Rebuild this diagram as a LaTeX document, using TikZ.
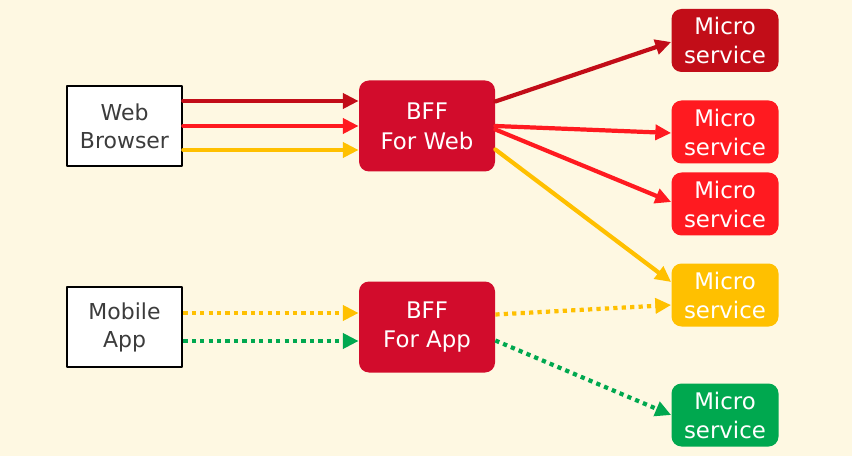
\documentclass[tikz,border=0pt]{standalone}
\usepackage{fontspec}
\setmainfont{DejaVu Sans}
\usepackage{xcolor}
\usetikzlibrary{arrows.meta}
\definecolor{bgcream}{HTML}{FEF8E2}
\definecolor{textgray}{HTML}{3C3C3C}
\definecolor{bffred}{HTML}{D20C2C}
\definecolor{darkred}{HTML}{C20D18}
\definecolor{brightred}{HTML}{FF1A20}
\definecolor{ambery}{HTML}{FFC000}
\definecolor{greenms}{HTML}{00A84F}
\tikzset{
	client/.style={draw=black,line width=1.5pt,fill=white,minimum width=2.3cm,minimum height=1.6cm,align=center,text=textgray,font=\fontsize{12.5}{16}\selectfont},
	bff/.style={fill=bffred,rounded corners=0.2cm,minimum width=2.72cm,minimum height=1.82cm,align=center,text=white,font=\fontsize{13}{17}\selectfont},
	service/.style={rounded corners=0.2cm,minimum width=2.14cm,minimum height=1.26cm,align=center,text=white,font=\fontsize{13}{16.5}\selectfont},
	flow/.style={->,line width=2.4pt},
	dotflow/.style={flow,line cap=butt,dash pattern=on 2.4pt off 2.4pt},
}

\begin{document}
\begin{tikzpicture}[line cap=round,line join=round,>={Triangle[length=9pt,width=8.5pt]},x=1.0cm,y=1.0cm]
		\fill[bgcream] (0,0) rectangle (17.04,9.12);
		\useasboundingbox (0,0) rectangle (17.04,9.12);
		% clients
		\node[client] (web) at (2.49,6.6) {Web\\Browser};
		\node[client] (app) at (2.49,2.58) {Mobile\\App};
		% backends for frontends
		\node[bff] (bffweb) at (8.54,6.6) {BFF\\For Web};
		\node[bff] (bffapp) at (8.54,2.58) {BFF\\For App};
		% micro services
		\node[service,fill=darkred] (ms1) at (14.5,8.31) {Micro\\service};
		\node[service,fill=brightred] (ms2) at (14.5,6.48) {Micro\\service};
		\node[service,fill=brightred] (ms3) at (14.5,5.04) {Micro\\service};
		\node[service,fill=ambery] (ms4) at (14.5,3.22) {Micro\\service};
		\node[service,fill=greenms] (ms5) at (14.5,0.82) {Micro\\service};
		% web calls
		\draw [flow,darkred] ([yshift=0.5cm]web.east)-- ([yshift=0.5cm]bffweb.west);
		\draw [flow,brightred] (web.east)-- (bffweb.west);
		\draw [flow,ambery] ([yshift=-0.48cm]web.east)-- ([yshift=-0.48cm]bffweb.west);
		\draw [flow,darkred] ([yshift=0.49cm]bffweb.east)-- ([yshift=-0.03cm]ms1.west);
		\draw [flow,brightred] (bffweb.east)-- ([yshift=-0.02cm]ms2.west);
		\draw [flow,brightred] ([yshift=-0.07cm]bffweb.east)-- ([yshift=0.04cm]ms3.west);
		\draw [flow,ambery] ([yshift=-0.47cm]bffweb.east)-- ([yshift=0.26cm]ms4.west);
		% app calls
		\draw [dotflow,ambery] ([yshift=0.28cm]app.east)-- ([yshift=0.28cm]bffapp.west);
		\draw [dotflow,greenms] ([yshift=-0.28cm]app.east)-- ([yshift=-0.28cm]bffapp.west);
		\draw [dotflow,ambery] ([yshift=0.25cm]bffapp.east)-- ([yshift=-0.2cm]ms4.west);
		\draw [dotflow,greenms] ([yshift=-0.27cm]bffapp.east)-- (ms5.west);
	\end{tikzpicture}
\end{document}
